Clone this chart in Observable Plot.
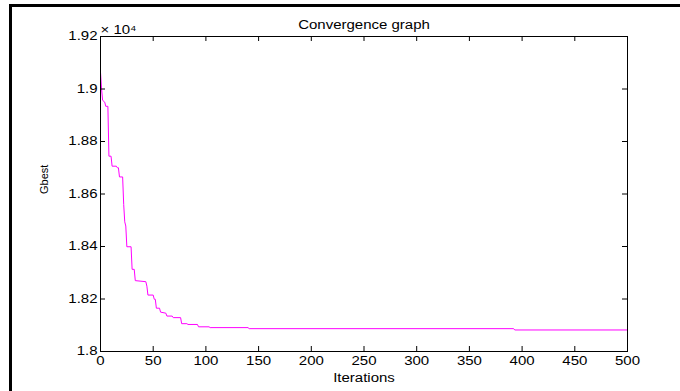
<!DOCTYPE html>
<html><head><meta charset="utf-8">
<script src="https://cdn.jsdelivr.net/npm/d3@7"></script>
<script src="https://cdn.jsdelivr.net/npm/@observablehq/plot@0.6"></script>
<style>
body{margin:0;background:#fff}
#wrap{position:relative;width:680px;height:391px;overflow:hidden}
#border{position:absolute;left:9px;top:4px;right:-5px;bottom:-5px;border-left:3px solid #000;border-top:3px solid #000;pointer-events:none}
</style>
</head><body><div id="wrap"><div id="border"></div></div>
<script>
const iterations = [0,1,2,4,5,7,8,10,11,15,16,17,18,21,22,23,24,25,29,30,32,33,43,44,45,50,51,52,53,56,57,62,63,68,69,76,77,82,83,92,93,103,104,140,141,392,393,500];
const gbest = [19064,19001,18957,18950,18934,18934,18744,18744,18706,18706,18700,18700,18665,18665,18560,18494,18478,18399,18399,18313,18313,18270,18266,18249,18215,18215,18199,18199,18165,18165,18150,18146,18135,18135,18129,18129,18106,18106,18103,18103,18094,18094,18091,18091,18087,18087,18082,18082];
const xTicks = [0,50,100,150,200,250,300,350,400,450,500];
const xTickLabels = ["0","50","100","150","200","250","300","350","400","450","500"];
const yTicks = [18000,18200,18400,18600,18800,19000,19200];
const yTickLabels = ["1.8","1.82","1.84","1.86","1.88","1.9","1.92"];
const title = "Convergence graph";
const xLabel = "Iterations";
const yLabel = "Gbest";
const exponentLabel = "× 10⁴";

const data = iterations.map((it, i) => ({iter: it, gbest: gbest[i]}));

const W = 680, H = 391, mL = 100, mR = 53, mT = 36, mB = 40;
const plotW = W - mL - mR, plotH = H - mT - mB, tick = 5;

const chart = Plot.plot({
  width: W, height: H,
  marginLeft: mL, marginRight: mR, marginTop: mT, marginBottom: mB,
  style: {fontFamily: "'Liberation Sans', Arial, sans-serif", fontSize: "12px", background: "white", color: "black"},
  x: {domain: [0, 500], label: null, axis: null},
  y: {domain: [18000, 19200], label: null, axis: null},
  marks: [
    Plot.line(data, {x: "iter", y: "gbest", stroke: "#ff00ff", strokeWidth: 1}),
    Plot.frame({stroke: "black", strokeWidth: 1}),
    // inward ticks on all four sides
    Plot.tickX(xTicks, {x: d => d, insetTop: plotH - tick, stroke: "black"}),
    Plot.tickX(xTicks, {x: d => d, insetBottom: plotH - tick, stroke: "black"}),
    Plot.tickY(yTicks, {y: d => d, insetRight: plotW - tick, stroke: "black"}),
    Plot.tickY(yTicks, {y: d => d, insetLeft: plotW - tick, stroke: "black"}),
    // tick labels
    Plot.axisX(xTicks, {anchor: "bottom", tickSize: 0, tickPadding: 5, fontSize: 12, tickFormat: d => xTickLabels[xTicks.indexOf(d)], label: null}),
    Plot.axisY(yTicks, {anchor: "left", tickSize: 0, tickPadding: 3, fontSize: 12, tickFormat: d => yTickLabels[yTicks.indexOf(d)], label: null}),
    Plot.text([title], {frameAnchor: "top", dy: -16, fontSize: 12}),
    Plot.text([exponentLabel], {frameAnchor: "top-left", textAnchor: "start", dy: -11, fontSize: 12}),
    Plot.text([xLabel], {frameAnchor: "bottom", dy: 30, fontSize: 12}),
    Plot.text([yLabel], {frameAnchor: "left", dx: -56, rotate: -90, fontSize: 11})
  ]
});

// horizontal stretch of glyphs, like the reference
chart.querySelectorAll("text").forEach(t => {
  const tr = t.getAttribute("transform");
  if (tr && tr.includes("rotate")) return;
  if (tr) {
    t.setAttribute("transform", tr + " scale(1.25,1)");
  } else {
    const x = +t.getAttribute("x") || 0;
    const y = +t.getAttribute("y") || 0;
    t.removeAttribute("x"); t.removeAttribute("y");
    t.setAttribute("transform", `translate(${x},${y}) scale(1.25,1)`);
  }
});

document.getElementById("wrap").insertBefore(chart, document.getElementById("border"));
chart.style.position = "absolute";
chart.style.left = "0"; chart.style.top = "0";
</script>
</body></html>
